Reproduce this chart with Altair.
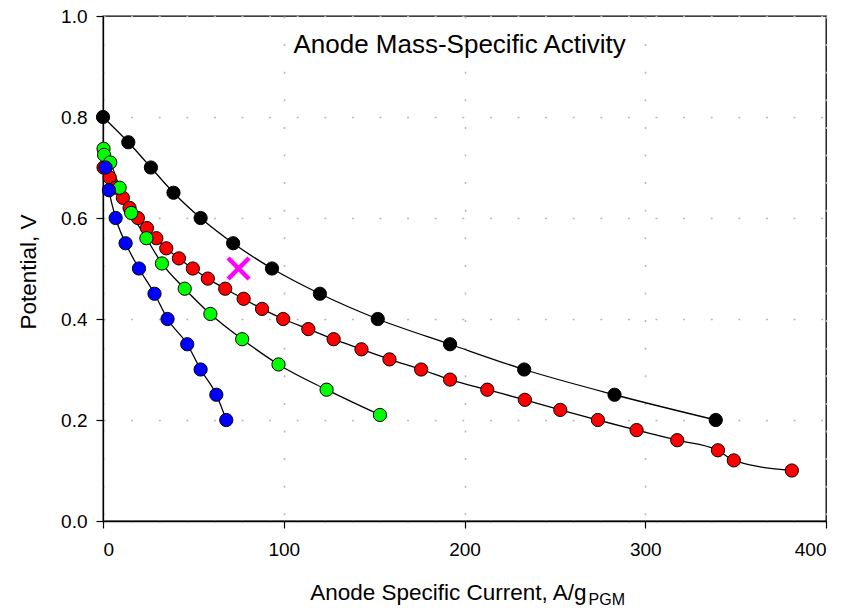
import altair as alt
import pandas as pd

# ---- data ----
black_i = [0, 14, 26.5, 39, 54, 72, 93.5, 120, 152, 192, 233, 283, 339]
black_v = [0.80, 0.75, 0.70, 0.65, 0.60, 0.55, 0.50, 0.45, 0.40, 0.35, 0.30, 0.25, 0.20]

red_i = [0.3, 3.7, 7, 11, 14.7, 19.3, 24.3, 29.5, 35, 42, 49.7, 58, 67.6, 77.8, 88,
         99.7, 113.6, 127.6, 143, 158.5, 176, 192, 212.6, 233.4, 253, 273.8, 295.2,
         317.7, 340.2, 349, 381.1]
red_v = [0.70, 0.68, 0.66, 0.64, 0.62, 0.60, 0.58, 0.56, 0.54, 0.52, 0.50, 0.48, 0.46,
         0.44, 0.42, 0.40, 0.38, 0.36, 0.34, 0.32, 0.30, 0.28, 0.26, 0.24, 0.22, 0.20,
         0.18, 0.16, 0.14, 0.12, 0.10]

green_i = [0.3, 0.6, 4, 9.2, 15.6, 24, 32.6, 45.2, 59.4, 77, 97.1, 123.7, 153.2]
green_v = [0.737, 0.725, 0.71, 0.66, 0.61, 0.56, 0.51, 0.46, 0.41, 0.36, 0.31, 0.26, 0.21]

blue_i = [1.4, 3.3, 7, 12.5, 19.9, 28.5, 35.7, 46.6, 54, 62.7, 68.2]
blue_v = [0.70, 0.655, 0.60, 0.55, 0.50, 0.45, 0.40, 0.35, 0.30, 0.25, 0.20]

target_i = [75]
target_v = [0.50]

series_names = ["red", "green", "blue", "black"]
series_colors = ["#ff0000", "#00ff00", "#0000ff", "#000000"]

x_ticks = [0, 100, 200, 300, 400]
y_ticks = [0.0, 0.2, 0.4, 0.6, 0.8, 1.0]

title_text = "Anode Mass-Specific Activity"
x_title = "Anode Specific Current, A/g"
x_title_sub = "PGM"
y_title = "Potential, V"

# ---- tables ----
rows = []
for name, xs, ys in [("red", red_i, red_v), ("green", green_i, green_v),
                     ("blue", blue_i, blue_v), ("black", black_i, black_v)]:
    for a, b in zip(xs, ys):
        rows.append({"series": name, "current": a, "potential": b})
df = pd.DataFrame(rows)
df["order"] = range(len(df))
df_target = pd.DataFrame({"current": target_i, "potential": target_v})

FONT = "Liberation Sans"
W, H = 723, 505

xscale = alt.Scale(domain=[0, 400], nice=False, zero=False)
yscale = alt.Scale(domain=[0, 1], nice=False, zero=False)

xaxis = alt.Axis(values=x_ticks, title=None, grid=True, labelPadding=12, format="d")
yaxis = alt.Axis(values=y_ticks, title=None, grid=True, labelPadding=9, format=".1f")

base = alt.Chart(df)

lines = base.mark_line(color="black", strokeWidth=1.3, interpolate="monotone").encode(
    x=alt.X("current:Q", scale=xscale, axis=xaxis),
    y=alt.Y("potential:Q", scale=yscale, axis=yaxis),
    detail="series:N",
)

points = base.mark_point(filled=True, shape="circle", size=175, stroke="black",
                         strokeWidth=1, opacity=1).encode(
    x=alt.X("current:Q", scale=xscale),
    y=alt.Y("potential:Q", scale=yscale),
    fill=alt.Fill("series:N", scale=alt.Scale(domain=series_names, range=series_colors),
                  legend=None),
    order=alt.Order("order:Q"),
)

target = alt.Chart(df_target).mark_point(
    shape="M-1,-1L1,1M-1,1L1,-1", size=440, stroke="#ff00ff", strokeWidth=4.5,
    filled=False, opacity=1, strokeCap="butt",
).encode(
    x=alt.X("current:Q", scale=xscale),
    y=alt.Y("potential:Q", scale=yscale),
)

one = pd.DataFrame({"a": [0]})

title_mark = alt.Chart(one).mark_text(
    text=title_text, font=FONT, fontSize=26, align="center", baseline="alphabetic",
    color="black",
).encode(x=alt.value(356.6), y=alt.value(36.5))

xt_main = alt.Chart(one).mark_text(
    text=x_title, font=FONT, fontSize=22.5, align="right", baseline="alphabetic",
    color="black",
).encode(x=alt.value(483.6), y=alt.value(584))

xt_sub = alt.Chart(one).mark_text(
    text=x_title_sub, font=FONT, fontSize=16, align="left", baseline="alphabetic",
    color="black",
).encode(x=alt.value(485.6), y=alt.value(589))

yt = alt.Chart(one).mark_text(
    text=y_title, font=FONT, fontSize=22.5, align="center", baseline="middle",
    angle=270, color="black",
).encode(x=alt.value(-74.4), y=alt.value(256))

chart = alt.layer(lines, points, target, title_mark, xt_main, xt_sub, yt).properties(
    width=W, height=H,
    autosize=alt.AutoSizeParams(type="none"),
    padding={"left": 95, "top": 8, "right": 10, "bottom": 89},
).configure_view(
    stroke="black", strokeWidth=1.3,
).configure_axis(
    domainColor="black", domainWidth=1.3, tickColor="black", tickSize=7,
    tickWidth=1.2, labelFont=FONT, labelFontSize=19, labelColor="black",
    gridColor="#b8b8b8", gridWidth=1.6, gridDash=[2, 25.6],
)

chart.save("out.html", embed_options={"renderer": "svg", "actions": False})
